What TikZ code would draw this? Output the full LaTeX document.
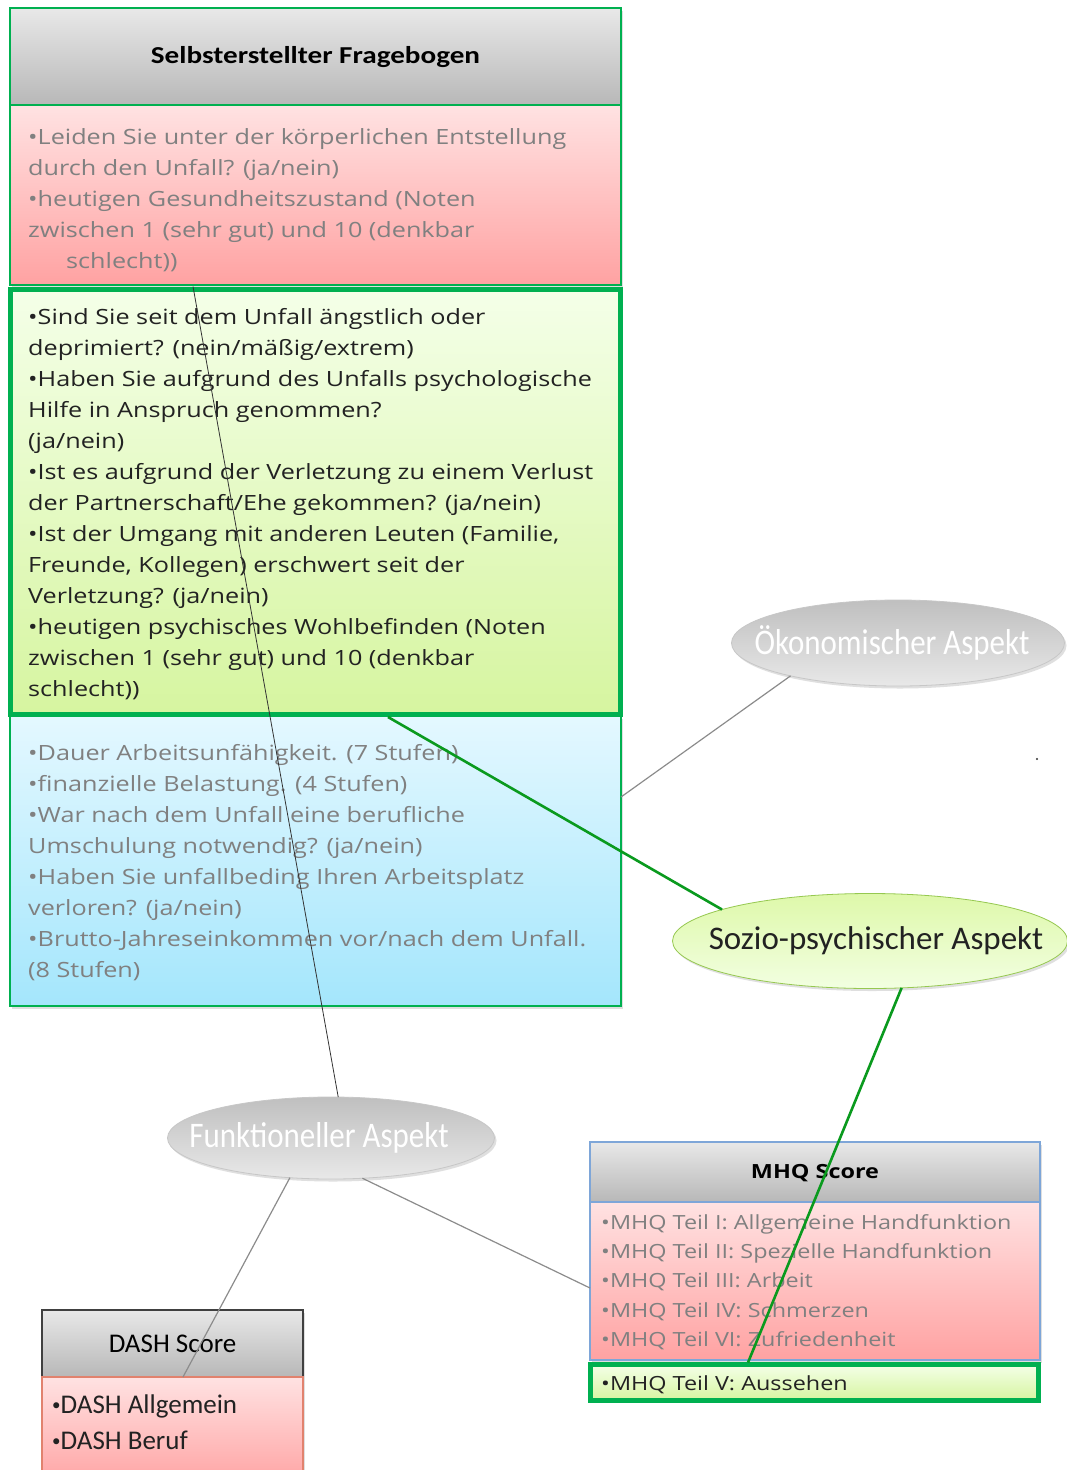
\documentclass[tikz,border=0pt]{standalone}
\usepackage{fontspec}
\setmainfont{Open Sans}[FakeStretch=1.2]
\newfontfamily\calwide{Carlito}[FakeStretch=1.2]
\newfontfamily\calfont{Carlito}
\newfontfamily\calnarrow{Carlito}[FakeStretch=0.86]
\newcommand{\dbul}{\raisebox{3pt}{\fontsize{17}{17}\selectfont •}}
\usetikzlibrary{shapes.geometric,calc,shadows}
\definecolor{grnline}{HTML}{00B050}
\definecolor{txtgray}{HTML}{808080}
\definecolor{txtdark}{HTML}{222222}
\definecolor{mhqline}{HTML}{7EA6D8}
\definecolor{conngray}{HTML}{8C8C8C}
\definecolor{conngreen}{HTML}{0A9A1E}
\begin{document}
\begin{tikzpicture}[x=1pt,y=-1pt,
  shd/.style={drop shadow={opacity=0.25,shadow xshift=2pt,shadow yshift=-2.5pt}},
  box/.style={rectangle,anchor=north west,inner sep=0pt,outer sep=0pt,shd},
  hdrfill/.style={top color=black!9,bottom color=black!28},
  redfill/.style={top color={rgb,255:red,255;green,226;blue,226},bottom color={rgb,255:red,255;green,162;blue,162}},
  grnfill/.style={top color={rgb,255:red,244;green,255;blue,232},bottom color={rgb,255:red,214;green,245;blue,160}},
  blufill/.style={top color={rgb,255:red,228;green,248;blue,255},bottom color={rgb,255:red,164;green,230;blue,252}},
  body/.style={anchor=west,align=left,inner sep=0pt,font={\fontsize{21}{31}\selectfont}},
  bodygray/.style={body,text=txtgray},
  bodydark/.style={body,text=txtdark},
  ell/.style={ellipse,inner sep=0pt,outer sep=0pt,shd},
  ellgray/.style={ell,draw=black!22,line width=0.8pt,top color=black!25,bottom color=black!9},
  ellgreen/.style={ell,draw={rgb,255:red,150;green,200;blue,80},line width=0.8pt,top color={rgb,255:red,222;green,248;blue,170},bottom color={rgb,255:red,242;green,255;blue,225}},
  elltext/.style={font={\calnarrow\fontsize{36}{40}\selectfont},text=white},
  thinconn/.style={draw=conngray,line width=1.2pt},
  greenconn/.style={draw=conngreen,line width=2.6pt},
  blackconn/.style={draw=black!80,line width=0.8pt}
]
\clip (0,0) rectangle (1067,1470);
\fill[white] (0,0) rectangle (1067,1470);

% ---- Selbsterstellter Fragebogen ----
\node[box,draw=grnline,line width=1.6pt,hdrfill,minimum width=611,minimum height=97] (sfh) at (10,8) {};
\node[font={\calwide\bfseries\fontsize{24.3}{28}\selectfont},text=black] (sfht) at ($(sfh.center)+(0,1)$) {Selbsterstellter Fragebogen};
\node[box,draw=grnline,line width=1.6pt,redfill,minimum width=611,minimum height=180] (sfr) at (10,105) {};
\node[bodygray] (sfrt) at ($(sfr.west)+(18,5)$) {•Leiden Sie unter der körperlichen Entstellung\\durch den Unfall? (ja/nein)\\•heutigen Gesundheitszustand (Noten\\zwischen 1 (sehr gut) und 10 (denkbar\\\hspace*{38pt}schlecht))};
\node[box,draw=grnline,line width=1.6pt,blufill,minimum width=611,minimum height=290] (sfb) at (10,716) {};
\node[bodygray] (sfbt) at ($(sfb.west)+(18,2)$) {•Dauer Arbeitsunfähigkeit. (7 Stufen)\\•finanzielle Belastung. (4 Stufen)\\•War nach dem Unfall eine berufliche\\Umschulung notwendig? (ja/nein)\\•Haben Sie unfallbeding Ihren Arbeitsplatz\\verloren? (ja/nein)\\•Brutto-Jahreseinkommen vor/nach dem Unfall.\\(8 Stufen)};
\node[box,draw=grnline,line width=5pt,grnfill,minimum width=610,minimum height=425] (sfg) at (10.5,289.5) {};
\node[bodydark] (sfgt) at ($(sfg.west)+(17.5,2)$) {•Sind Sie seit dem Unfall ängstlich oder\\deprimiert? (nein/mäßig/extrem)\\•Haben Sie aufgrund des Unfalls psychologische\\Hilfe in Anspruch genommen?\\(ja/nein)\\•Ist es aufgrund der Verletzung zu einem Verlust\\der Partnerschaft/Ehe gekommen? (ja/nein)\\•Ist der Umgang mit anderen Leuten (Familie,\\Freunde, Kollegen) erschwert seit der\\Verletzung? (ja/nein)\\•heutigen psychisches Wohlbefinden (Noten\\zwischen 1 (sehr gut) und 10 (denkbar\\schlecht))};

% ---- MHQ Score ----
\node[box,draw=mhqline,line width=1.2pt,hdrfill,minimum width=450,minimum height=60] (mhqh) at (590,1142) {};
\node[font={\bfseries\fontsize{19.5}{24}\selectfont},text=black] (mhqht) at ($(mhqh.center)+(0,1)$) {MHQ Score};
\node[box,draw=mhqline,line width=1.2pt,redfill,minimum width=450,minimum height=158] (mhqr) at (590,1202) {};
\node[bodygray,font={\fontsize{19.5}{29.2}\selectfont}] (mhqrt) at ($(mhqr.west)+(11,1)$) {•MHQ Teil I: Allgemeine Handfunktion\\•MHQ Teil II: Spezielle Handfunktion\\•MHQ Teil III: Arbeit\\•MHQ Teil IV: Schmerzen\\•MHQ Teil VI: Zufriedenheit};
\node[box,draw=grnline,line width=4.5pt,grnfill,minimum width=448,minimum height=36] (mhqg) at (590.5,1364.5) {};
\node[bodydark,font={\fontsize{19.5}{29}\selectfont}] (mhqgt) at ($(mhqg.west)+(10.5,2)$) {•MHQ Teil V: Aussehen};

% ---- DASH Score ----
\node[box,draw=black!75,line width=1.2pt,hdrfill,minimum width=261,minimum height=67] (dashh) at (42,1310) {};
\node[font={\calfont\fontsize{27}{30}\selectfont},text=black] (dashht) at (dashh.center) {DASH Score};
\node[box,draw={rgb,255:red,225;green,130;blue,110},line width=1.2pt,redfill,minimum width=261,minimum height=110] (dashr) at (42,1377) {};
\node[anchor=north west,align=left,inner sep=0pt,font={\calfont\fontsize{27}{36}\selectfont},text=txtdark] (dashrt) at ($(dashr.north west)+(10,18)$) {\dbul DASH Allgemein\\\dbul DASH Beruf};

% ---- Ellipses ----
\node[ellgray,minimum width=333,minimum height=86] (oek) at (898,643) {};
\node[elltext] (oekt) at ($(oek.center)+(-6,0)$) {Ökonomischer Aspekt};
\node[ellgreen,minimum width=395,minimum height=95] (soz) at (870,941) {};
\node[elltext,text=txtdark,font={\calfont\fontsize{33}{36}\selectfont}] (sozt) at ($(soz.center)+(6,0)$) {Sozio-psychischer Aspekt};
\node[ellgray,minimum width=327,minimum height=82] (fun) at (331,1138) {};
\node[elltext] (funt) at ($(fun.center)+(-12,0)$) {Funktioneller Aspekt};

% ---- Connectors ----
\coordinate (blkstart) at ($(sfg.north west)+(182.5,-3)$);
\draw[blackconn] (blkstart) -- (fun.80);
\draw[thinconn] (oek.197) -- ($(sfb.north east)+(0,81)$);
\draw[greenconn] ($(sfg.south west)+(377.5,2.5)$) -- (soz.168);
\draw[greenconn] (soz.304) -- ($(mhqg.north west)+(157.5,-2)$);
\draw[thinconn] (fun.224) -- ($(dashr.north west)+(141,0)$);
\draw[thinconn] (fun.308) -- ($(mhqr.north west)+(0,86)$);

\fill[black!80] (1037,759) circle (1.2);
\end{tikzpicture}
\end{document}
